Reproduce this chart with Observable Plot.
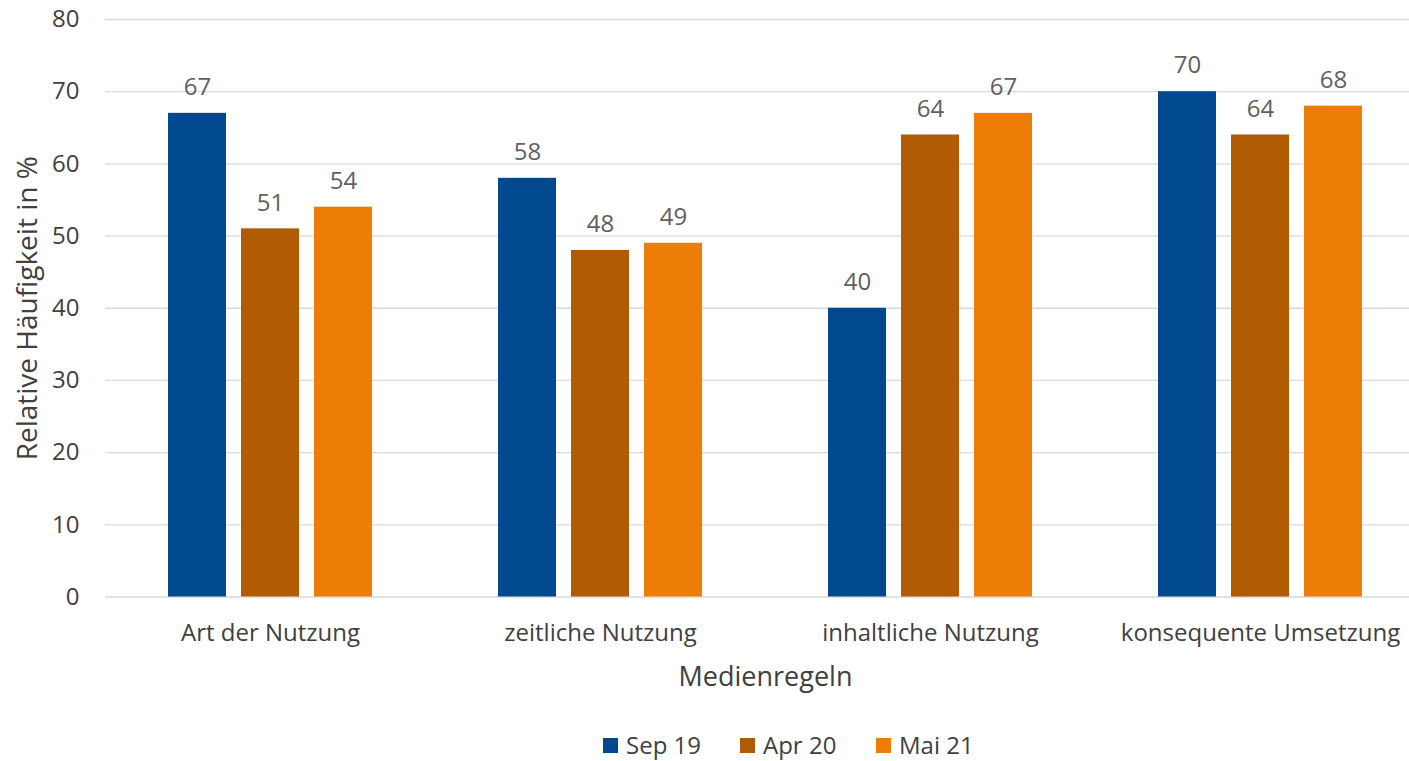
<!DOCTYPE html>
<html>
<head>
<meta charset="utf-8">
<script src="https://cdn.jsdelivr.net/npm/d3@7"></script>
<script src="https://cdn.jsdelivr.net/npm/@observablehq/plot@0.6"></script>
<style>
  body { margin: 0; background: #fff; font-family: "Open Sans", sans-serif; }
  #chart { position: relative; width: 1409px; height: 761px; }
  .legend { position: absolute; top: 700px; left: 0; width: 1409px; height: 61px; }
  .item { position: absolute; top: 28px; height: 34px; display: flex; align-items: center; font-size: 24px; line-height: 34px; color: #404040; }
  .swatch { width: 15px; height: 15px; margin-right: 8px; }
</style>
</head>
<body>
<div id="chart"></div>
<script>
// Medienregeln survey: share of respondents per rule and survey wave
const categories = ["Art der Nutzung", "zeitliche Nutzung", "inhaltliche Nutzung", "konsequente Umsetzung"];
const waves = ["Sep 19", "Apr 20", "Mai 21"];
const sep19 = [67, 58, 40, 70];
const apr20 = [51, 48, 64, 64];
const mai21 = [54, 49, 67, 68];
const yTicks = [0, 10, 20, 30, 40, 50, 60, 70, 80];
const colors = ["#00498F", "#B25B05", "#EE7D08"];

const rows = [];
[sep19, apr20, mai21].forEach((vals, i) => {
  vals.forEach((v, j) => rows.push({category: categories[j], wave: waves[i], value: v}));
});

const chart = Plot.plot({
  width: 1409,
  height: 700,
  marginLeft: 105,
  marginRight: -16,
  marginTop: 19,
  marginBottom: 103.5,
  style: {fontFamily: "'Open Sans', sans-serif", background: "#fff"},
  fx: {domain: categories, paddingInner: 0, paddingOuter: 0, axis: null},
  x: {domain: waves, paddingInner: 15 / 73, paddingOuter: 63 / 73, axis: null},
  y: {domain: [0, 80], axis: null},
  color: {domain: waves, range: colors},
  marks: [
    Plot.gridY(yTicks, {stroke: "#d9d9d9", strokeOpacity: 1, strokeWidth: 1.3}),
    Plot.axisY(yTicks, {tickSize: 0, tickPadding: 26, fontSize: 24, color: "#404040", label: null}),
    Plot.barY(rows, {fx: "category", x: "wave", y: "value", fill: "wave"}),
    Plot.text(rows, {fx: "category", x: "wave", y: "value", text: d => String(d.value), dy: -26, fontSize: 24, fill: "#606060"}),
    Plot.text(categories, {fx: d => d, frameAnchor: "bottom", lineAnchor: "middle", dy: 36, fontSize: 24, fill: "#404040"}),
    Plot.text(["Medienregeln"], {facet: "super", frameAnchor: "bottom", lineAnchor: "middle", dy: 80, fontSize: 27, fill: "#404040"}),
    Plot.text(["Relative Häufigkeit in %"], {facet: "super", frameAnchor: "left", textAnchor: "middle", dx: -77, rotate: -90, fontSize: 28, fill: "#404040"})
  ]
});

const root = document.getElementById("chart");
root.appendChild(chart);

// legend below the plot
const legend = document.createElement("div");
legend.className = "legend";
const lefts = [603, 740, 876];
waves.forEach((w, i) => {
  const item = document.createElement("div");
  item.className = "item";
  item.style.left = lefts[i] + "px";
  const sw = document.createElement("span");
  sw.className = "swatch";
  sw.style.background = colors[i];
  const label = document.createElement("span");
  label.textContent = w;
  item.appendChild(sw);
  item.appendChild(label);
  legend.appendChild(item);
});
root.appendChild(legend);
</script>
</body>
</html>
